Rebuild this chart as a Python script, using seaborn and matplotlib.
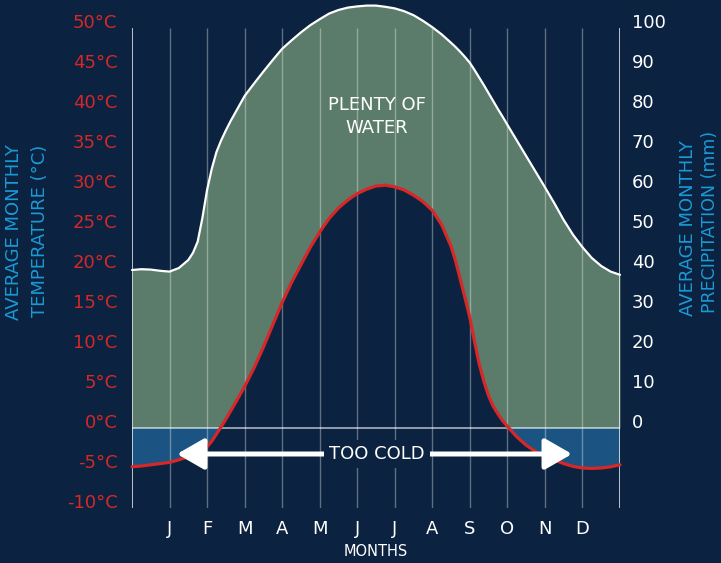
import numpy as np
import pandas as pd
import matplotlib
matplotlib.use("Agg")
import matplotlib.pyplot as plt
import seaborn as sns

# ---- data (x = month position, 1 = Jan ... 12 = Dec) ----
month_pos = [0, 0.25, 0.5, 0.75, 1, 1.25, 1.5, 1.625, 1.75, 1.875, 2, 2.125,
             2.25, 2.375, 2.5, 2.625, 2.75, 3, 3.25, 3.5, 3.75, 4, 4.25, 4.5,
             4.75, 5, 5.25, 5.5, 5.75, 6, 6.25, 6.5, 6.75, 7, 7.25, 7.5, 7.75,
             8, 8.25, 8.5, 8.625, 8.75, 8.875, 9, 9.125, 9.25, 9.375, 9.5,
             9.625, 9.75, 9.875, 10, 10.25, 10.5, 10.75, 11, 11.25, 11.5,
             11.75, 12, 12.25, 12.5, 12.75, 13]
temperature_c = [-4.84, -4.75, -4.6, -4.45, -4.3, -3.97, -3.6, -3.37, -3.1,
                 -2.8, -2.35, -1.65, -0.75, 0.15, 1.1, 2.1, 3.1, 5.2, 7.5, 10.1,
                 12.9, 15.7, 18.2, 20.4, 22.6, 24.5, 26.2, 27.5, 28.5, 29.3,
                 29.85, 30.25, 30.35, 30.15, 29.75, 29.1, 28.3, 27.2, 25.4, 22.7,
                 20.8, 18.5, 16.2, 13.8, 10.8, 8.0, 5.8, 4.0, 2.7, 1.75, 0.9, 0.2,
                 -1.1, -2.15, -2.95, -3.55, -4.0, -4.45, -4.8, -5.0, -5.05, -5.0,
                 -4.85, -4.6]
precip_mm = [39.5, 39.7, 39.6, 39.3, 39.1, 40.0, 42.0, 43.8, 46.6, 52.5, 59.5,
             64.8, 69.0, 71.9, 74.4, 76.7, 78.8, 83.0, 86.1, 89.1, 92.0, 94.8,
             96.9, 98.9, 100.7, 102.2, 103.6, 104.5, 105.1, 105.4, 105.6, 105.6,
             105.3, 104.9, 104.2, 103.2, 101.8, 100.2, 98.4, 96.3, 95.2, 94.0,
             92.7, 91.3, 89.5, 87.6, 85.7, 83.7, 81.7, 79.7, 77.8, 75.8, 71.9,
             68.0, 64.1, 60.2, 56.2, 52.0, 48.3, 45.2, 42.5, 40.5, 39.1, 38.3]
month_labels = ["J", "F", "M", "A", "M", "J", "J", "A", "S", "O", "N", "D"]
temp_ticks = list(range(-10, 51, 5))
precip_ticks = list(range(0, 101, 10))

NAVY = "#0b2240"
GREEN = "#5b7c6b"
BLUE = "#1b5482"
RED = "#d62828"
LABEL_BLUE = "#1b9ad6"

sns.set_theme(style="dark", rc={"figure.facecolor": NAVY, "axes.facecolor": NAVY})
plt.rcParams["font.family"] = ["DejaVu Sans"]

df = pd.DataFrame({"x": month_pos, "temp": temperature_c, "prec": precip_mm})
df["prec_on_temp"] = df["prec"] / 2.0   # 100 mm lines up with 50 °C

fig = plt.figure(figsize=(7.21, 5.63), dpi=100)
ax = fig.add_axes([132 / 721, 55 / 563, 488 / 721, 480 / 563])
ax.set_facecolor(NAVY)

x = df["x"].to_numpy()
t = df["temp"].to_numpy()
p = df["prec_on_temp"].to_numpy()

# fills
ax.fill_between(x, np.maximum(t, 0), p, color=GREEN, lw=0, zorder=1, clip_on=False)
ax.fill_between(x, t, 0, where=t < 0, interpolate=True, color=BLUE, lw=0, zorder=1)

# grid + frame lines
ax.vlines(range(1, 13), -10, 50, color="white", alpha=0.35, lw=1, zorder=2)
ax.vlines([0, 13], -10, 50, color="white", alpha=0.85, lw=1.2, zorder=2)
ax.hlines(0, 0, 13, color="white", alpha=0.6, lw=1.3, zorder=3)

# curves
sns.lineplot(data=df, x="x", y="prec_on_temp", ax=ax, color="white", lw=1.6,
             estimator=None, sort=False, zorder=4)
sns.lineplot(data=df, x="x", y="temp", ax=ax, color=RED, lw=2.3,
             estimator=None, sort=False, zorder=5)
for ln in ax.lines:
    ln.set_clip_on(False)
    ln.set_solid_joinstyle("round")

ax.set_xlim(0, 13)
ax.set_ylim(-10, 50)
for s in ax.spines.values():
    s.set_visible(False)

ax.set_xticks(range(1, 13))
ax.set_xticklabels(month_labels)
ax.tick_params(axis="x", colors="white", labelsize=13, length=0, pad=8.5)
ax.set_yticks(temp_ticks)
ax.set_yticklabels([f"{v}°C" for v in temp_ticks])
ax.tick_params(axis="y", colors=RED, labelsize=13, length=0, pad=10.5)
plt.setp(ax.get_yticklabels(), va="baseline")
ax.set_xlabel("")
ax.set_ylabel("")
ax.grid(False)

ax2 = ax.twinx()
ax2.set_ylim(-20, 100)
ax2.set_yticks(precip_ticks)
ax2.set_yticklabels([str(v) for v in precip_ticks])
ax2.tick_params(axis="y", colors="white", labelsize=13, length=0, pad=8.5)
plt.setp(ax2.get_yticklabels(), va="baseline")
ax2.patch.set_visible(False)
ax2.grid(False)
for s in ax2.spines.values():
    s.set_visible(False)

# annotations
ax.text(6.52, 38.9, "PLENTY OF\nWATER", color="white", fontsize=13,
        ha="center", va="center", linespacing=1.35, zorder=6)
ax.annotate("", xy=(1.2, -3.25), xytext=(11.72, -3.25),
            arrowprops=dict(arrowstyle="<|-|>,head_length=1.65,head_width=0.95",
                            color="white", lw=3.6, mutation_scale=10,
                            shrinkA=0, shrinkB=0), zorder=6)
ax.text(6.52, -3.25, "TOO COLD", color="white", fontsize=13, ha="center",
        va="center", zorder=7,
        bbox=dict(facecolor=NAVY, edgecolor="none", boxstyle="square,pad=0.3"))

fig.text(376 / 721, 1 - 552 / 563, "MONTHS", color="white", fontsize=10.5,
         ha="center", va="center")
fig.text(14 / 721, 1 - 232 / 563, "AVERAGE MONTHLY", color=LABEL_BLUE,
         fontsize=13, rotation=90, ha="center", va="center")
fig.text(40 / 721, 1 - 231 / 563, "TEMPERATURE (°C)", color=LABEL_BLUE,
         fontsize=13, rotation=90, ha="center", va="center")
fig.text(688 / 721, 1 - 228 / 563, "AVERAGE MONTHLY", color=LABEL_BLUE,
         fontsize=13, rotation=90, ha="center", va="center")
fig.text(710 / 721, 1 - 222 / 563, "PRECIPITATION (mm)", color=LABEL_BLUE,
         fontsize=12.5, rotation=90, ha="center", va="center")

fig.savefig("out.png", dpi=100, facecolor=NAVY)
